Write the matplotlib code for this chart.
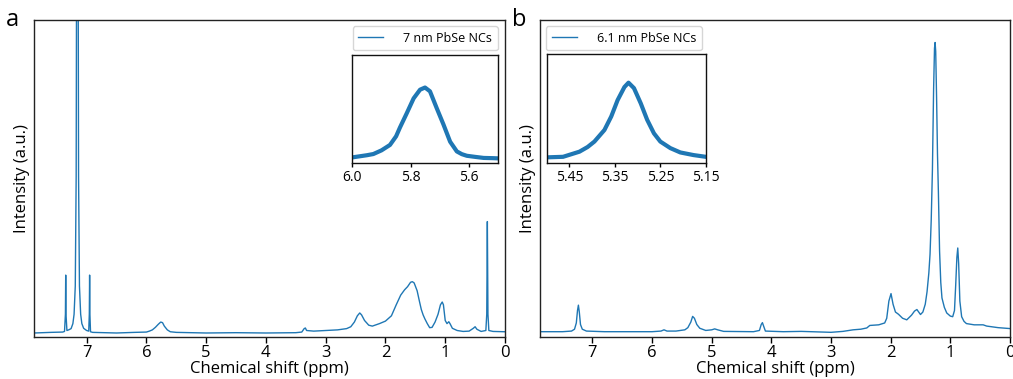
import matplotlib
matplotlib.use("Agg")
import matplotlib.pyplot as plt

# ── data ──────────────────────────────────────────────────────────────────
# panel a: 7 nm PbSe NCs
ppm_a = [7.88, 7.6, 7.4, 7.37, 7.355, 7.35, 7.345, 7.33, 7.3, 7.26, 7.23, 7.21,
         7.19, 7.175, 7.165, 7.155, 7.145, 7.135, 7.12, 7.10, 7.08, 7.05, 7.0,
         6.965, 6.955, 6.95, 6.945, 6.935, 6.9, 6.5, 6.2, 6.0, 5.95, 5.9, 5.85,
         5.8, 5.76, 5.73, 5.7, 5.65, 5.6, 5.5, 5.0, 4.5, 4.0, 3.5, 3.4, 3.36,
         3.34, 3.32, 3.2, 3.0, 2.8, 2.65, 2.58, 2.52, 2.47, 2.43, 2.40, 2.35,
         2.28, 2.22, 2.1, 2.0, 1.9, 1.82, 1.745, 1.68, 1.63, 1.58, 1.55, 1.52,
         1.47, 1.43, 1.40, 1.37, 1.34, 1.3, 1.26, 1.22, 1.17, 1.12, 1.08, 1.05,
         1.03, 1.0, 0.97, 0.94, 0.92, 0.88, 0.8, 0.7, 0.6, 0.53, 0.5, 0.47, 0.4,
         0.32, 0.305, 0.295, 0.285, 0.27, 0.2, 0.0]
int_a = [0.0, 0.002, 0.003, 0.005, 0.06, 0.185, 0.06, 0.008, 0.01, 0.014, 0.03,
         0.06, 0.15, 0.5, 1.5, 3.0, 1.5, 0.5, 0.15, 0.06, 0.03, 0.015, 0.008,
         0.006, 0.06, 0.185, 0.06, 0.004, 0.002, 0.0, 0.002, 0.003, 0.006, 0.01,
         0.018, 0.028, 0.035, 0.033, 0.022, 0.01, 0.004, 0.002, 0.0, 0.001, 0.0,
         0.001, 0.003, 0.014, 0.016, 0.008, 0.006, 0.008, 0.01, 0.014, 0.02,
         0.035, 0.055, 0.064, 0.058, 0.04, 0.025, 0.022, 0.03, 0.038, 0.055,
         0.09, 0.121, 0.138, 0.148, 0.162, 0.164, 0.16, 0.135, 0.1, 0.075,
         0.058, 0.045, 0.03, 0.017, 0.018, 0.035, 0.06, 0.09, 0.099, 0.09, 0.04,
         0.03, 0.036, 0.03, 0.015, 0.008, 0.005, 0.006, 0.015, 0.02, 0.012,
         0.005, 0.008, 0.06, 0.356, 0.06, 0.008, 0.005, 0.004]

# inset a: olefinic region 6.0-5.5 ppm
ins_ppm_a = [6.0, 5.975, 5.95, 5.928, 5.9, 5.871, 5.85, 5.837, 5.814, 5.79,
             5.768, 5.751, 5.734, 5.711, 5.688, 5.665, 5.642, 5.625, 5.608,
             5.58, 5.55, 5.52, 5.5]
ins_int_a = [0.055, 0.065, 0.075, 0.086, 0.12, 0.17, 0.25, 0.33, 0.46, 0.60,
             0.68, 0.70, 0.665, 0.51, 0.36, 0.20, 0.11, 0.085, 0.07, 0.06,
             0.05, 0.048, 0.046]

# panel b: 6.1 nm PbSe NCs
ppm_b = [7.87, 7.5, 7.35, 7.3, 7.27, 7.25, 7.235, 7.22, 7.2, 7.17, 7.1, 6.8,
         6.0, 5.85, 5.8, 5.75, 5.6, 5.45, 5.4, 5.35, 5.32, 5.29, 5.25, 5.2, 5.1,
         5.0, 4.95, 4.9, 4.8, 4.3, 4.2, 4.17, 4.15, 4.13, 4.1, 3.8, 3.5, 3.0,
         2.8, 2.63, 2.5, 2.4, 2.35, 2.2, 2.1, 2.066, 2.03, 1.994, 1.96, 1.92,
         1.87, 1.8, 1.73, 1.65, 1.6, 1.56, 1.53, 1.5, 1.46, 1.42, 1.39, 1.36,
         1.34, 1.32, 1.30, 1.28, 1.265, 1.255, 1.245, 1.23, 1.215, 1.20, 1.18,
         1.16, 1.14, 1.1, 1.06, 1.0, 0.96, 0.93, 0.91, 0.89, 0.875, 0.86, 0.84,
         0.81, 0.77, 0.73, 0.6, 0.45, 0.39, 0.2, 0.0]
int_b = [0.002, 0.002, 0.004, 0.01, 0.03, 0.07, 0.087, 0.065, 0.025, 0.01,
         0.004, 0.002, 0.002, 0.004, 0.008, 0.004, 0.004, 0.008, 0.015, 0.033,
         0.051, 0.045, 0.025, 0.013, 0.006, 0.008, 0.011, 0.008, 0.003, 0.002,
         0.006, 0.025, 0.031, 0.02, 0.004, 0.002, 0.003, 0.0, 0.003, 0.008,
         0.01, 0.014, 0.022, 0.024, 0.03, 0.045, 0.1, 0.124, 0.09, 0.065, 0.058,
         0.045, 0.04, 0.055, 0.068, 0.073, 0.065, 0.057, 0.065, 0.09, 0.13,
         0.19, 0.25, 0.36, 0.52, 0.78, 0.91, 0.928, 0.9, 0.75, 0.57, 0.45, 0.26,
         0.16, 0.11, 0.08, 0.062, 0.052, 0.05, 0.07, 0.15, 0.24, 0.27, 0.22,
         0.1, 0.05, 0.035, 0.028, 0.024, 0.024, 0.02, 0.015, 0.012]

# inset b: olefinic region 5.5-5.15 ppm
ins_ppm_b = [5.5, 5.464, 5.428, 5.41, 5.395, 5.373, 5.358, 5.344, 5.329, 5.32,
             5.308, 5.293, 5.279, 5.264, 5.25, 5.228, 5.206, 5.177, 5.15]
ins_int_b = [0.055, 0.06, 0.107, 0.15, 0.2, 0.306, 0.43, 0.58, 0.70, 0.74,
             0.69, 0.55, 0.40, 0.275, 0.2, 0.14, 0.1, 0.076, 0.06]

labels = ["7 nm PbSe NCs", "6.1 nm PbSe NCs"]

# ── style ─────────────────────────────────────────────────────────────────
plt.rcParams["font.family"] = ["Open Sans", "DejaVu Sans"]
blue = "#1f77b4"

fig = plt.figure(figsize=(10.13, 3.79), dpi=100)


def main_axes(rect, ppm, inten, label, ylim, legend_loc, anchor, letter):
    ax = fig.add_axes(rect)
    ax.plot(ppm, inten, color=blue, lw=1.0, label=label)
    ax.set_xlim(7.88, 0)
    ax.set_ylim(*ylim)
    ax.set_xticks(range(0, 8))
    ax.set_yticks([])
    ax.tick_params(axis="x", labelsize=12, length=4, width=1, pad=2)
    for s in ax.spines.values():
        s.set_linewidth(1.0)
        s.set_color("#222222")
    ax.set_xlabel("Chemical shift (ppm)", fontsize=12, labelpad=0)
    ax.set_ylabel("Intensity (a.u.)", fontsize=12, labelpad=3)
    ax.legend(loc=legend_loc, bbox_to_anchor=anchor, fontsize=9,
              handlelength=2.0, handletextpad=1.6, borderpad=0.45,
              borderaxespad=0)
    ax.text(-0.045, 1.0, letter, transform=ax.transAxes, fontsize=17,
            ha="center", va="center")
    return ax


def inset_axes(rect, ppm, inten, xlim, ticks, fmt):
    ax = fig.add_axes(rect)
    ax.plot(ppm, inten, color=blue, lw=3.0, solid_joinstyle="round")
    ax.set_xlim(*xlim)
    ax.set_ylim(0, 1)
    ax.set_xticks(ticks)
    ax.set_xticklabels([fmt.format(t) for t in ticks])
    ax.set_yticks([])
    ax.tick_params(axis="x", labelsize=10, length=3, width=1, pad=2)
    for s in ax.spines.values():
        s.set_linewidth(1.0)
        s.set_color("#111111")
    return ax


# ── panel a ───────────────────────────────────────────────────────────────
main_axes([0.0336, 0.1108, 0.4649, 0.8364], ppm_a, int_a, labels[0],
          (-0.0128, 1.0), "upper right", (0.985, 0.981), "a")
inset_axes([0.3478, 0.569, 0.1441, 0.2858], ins_ppm_a, ins_int_a,
           (6.0, 5.5), [6.0, 5.8, 5.6], "{:.1f}")

# ── panel b ───────────────────────────────────────────────────────────────
main_axes([0.533, 0.1108, 0.464, 0.8364], ppm_b, int_b, labels[1],
          (-0.015, 1.0), "upper left", (0.0128, 0.981), "b")
inset_axes([0.5397, 0.569, 0.157, 0.2876], ins_ppm_b, ins_int_b,
           (5.5, 5.15), [5.45, 5.35, 5.25, 5.15], "{:.2f}")

fig.savefig("out.png", dpi=100)
print("Saved: out.png")
